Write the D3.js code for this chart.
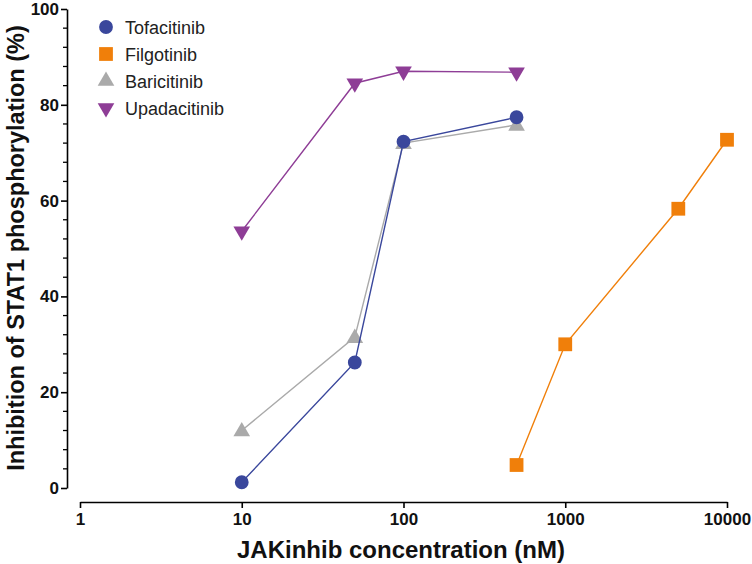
<!DOCTYPE html>
<html>
<head>
<meta charset="utf-8">
<script src="https://cdn.jsdelivr.net/npm/d3@7"></script>
<style>
  body { margin: 0; background: #fff; }
  text { font-family: "Liberation Sans", Arial, sans-serif; }
</style>
</head>
<body>
<div id="chart"></div>
<script>
// data
const seriesNames = ["Tofacitinib", "Filgotinib", "Baricitinib", "Upadacitinib"];
const colors = ["#3a479c", "#f07f0a", "#aaaaaa", "#8e3d96"];
const shapes = ["circle", "square", "triangle", "triangleDown"];
const tofaDose = [10, 50, 100, 500];
const tofaValue = [1.2, 26.2, 72.3, 77.4];
const filgoDose = [500, 1000, 5000, 10000];
const filgoValue = [4.8, 30, 58.3, 72.7];
const bariDose = [10, 50, 100, 500];
const bariValue = [12, 31.5, 72, 75.8];
const upaDose = [10, 50, 100, 500];
const upaValue = [53.6, 84.5, 87, 86.8];
const xTicks = [1, 10, 100, 1000, 10000];
const yTicks = [0, 20, 40, 60, 80, 100];

const doses = [tofaDose, filgoDose, bariDose, upaDose];
const values = [tofaValue, filgoValue, bariValue, upaValue];

const width = 752, height = 564;
const svg = d3.select("#chart").append("svg")
    .attr("width", width)
    .attr("height", height);

const x = d3.scaleLog().domain([1, 10000]).range([80, 727]);
const y = d3.scaleLinear().domain([0, 100]).range([488, 9]);

// y axis (Prism style, offset from x axis)
const yAxisG = svg.append("g")
    .attr("transform", "translate(67,0)")
    .call(d3.axisLeft(y).tickValues(yTicks).tickSize(6).tickSizeOuter(0).tickPadding(2));
// minor ticks every 4
yAxisG.selectAll(".minor")
    .data(d3.range(0, 101, 4).filter(v => v % 20 !== 0))
    .join("line")
    .attr("class", "minor")
    .attr("x1", 0).attr("x2", -4)
    .attr("y1", d => y(d)).attr("y2", d => y(d))
    .attr("stroke", "#000").attr("stroke-width", 1.3);

const xAxisG = svg.append("g")
    .attr("transform", "translate(0,502)")
    .call(d3.axisBottom(x).tickValues(xTicks).tickFormat(d3.format("d")).tickSize(6).tickSizeOuter(0).tickPadding(5));

[yAxisG, xAxisG].forEach(g => {
    g.select(".domain").attr("stroke-width", 1.6);
    g.selectAll(".tick line").attr("stroke-width", 1.6);
    g.selectAll(".tick text")
        .attr("font-size", 17)
        .attr("font-weight", "bold")
        .attr("fill", "#111")
        .style("font-family", "'Liberation Sans', Arial, sans-serif");
});

// axis titles
svg.append("text")
    .attr("x", 401).attr("y", 558)
    .attr("text-anchor", "middle")
    .attr("font-size", 24)
    .attr("font-weight", "bold")
    .attr("fill", "#111")
    .text("JAKinhib concentration (nM)");

svg.append("text")
    .attr("transform", "translate(24,248) rotate(-90)")
    .attr("text-anchor", "middle")
    .attr("font-size", 23.5)
    .attr("font-weight", "bold")
    .attr("fill", "#111")
    .text("Inhibition of STAT1 phosphorylation (%)");

const symbolFor = s => {
    if (s === "circle") return d3.symbol(d3.symbolCircle, 150)();
    if (s === "square") return d3.symbol(d3.symbolSquare, 190)();
    return d3.symbol(d3.symbolTriangle, 120)();
};

const line = d3.line().x(d => x(d[0])).y(d => y(d[1]));

// draw in order so blue sits on top of grey
const order = [2, 1, 3, 0];
order.forEach(i => {
    const pts = doses[i].map((d, j) => [d, values[i][j]]);
    svg.append("path")
        .datum(pts)
        .attr("d", line)
        .attr("fill", "none")
        .attr("stroke", colors[i])
        .attr("stroke-width", 1.4);
    svg.append("g").selectAll("path")
        .data(pts)
        .join("path")
        .attr("d", symbolFor(shapes[i]))
        .attr("transform", d => `translate(${x(d[0])},${y(d[1]) + (shapes[i] === "triangle" ? 1 : 0)})` +
            (shapes[i] === "triangleDown" ? " rotate(180)" : ""))
        .attr("fill", colors[i]);
});

// legend
const legend = svg.append("g");
seriesNames.forEach((name, i) => {
    const ly = 27 + i * 27;
    legend.append("path")
        .attr("d", symbolFor(shapes[i]))
        .attr("transform", `translate(106,${ly})` + (shapes[i] === "triangleDown" ? " rotate(180)" : ""))
        .attr("fill", colors[i]);
    legend.append("text")
        .attr("x", 125).attr("y", ly + 6.5)
        .attr("font-size", 18)
        .attr("fill", "#222")
        .text(name);
});
</script>
</body>
</html>
